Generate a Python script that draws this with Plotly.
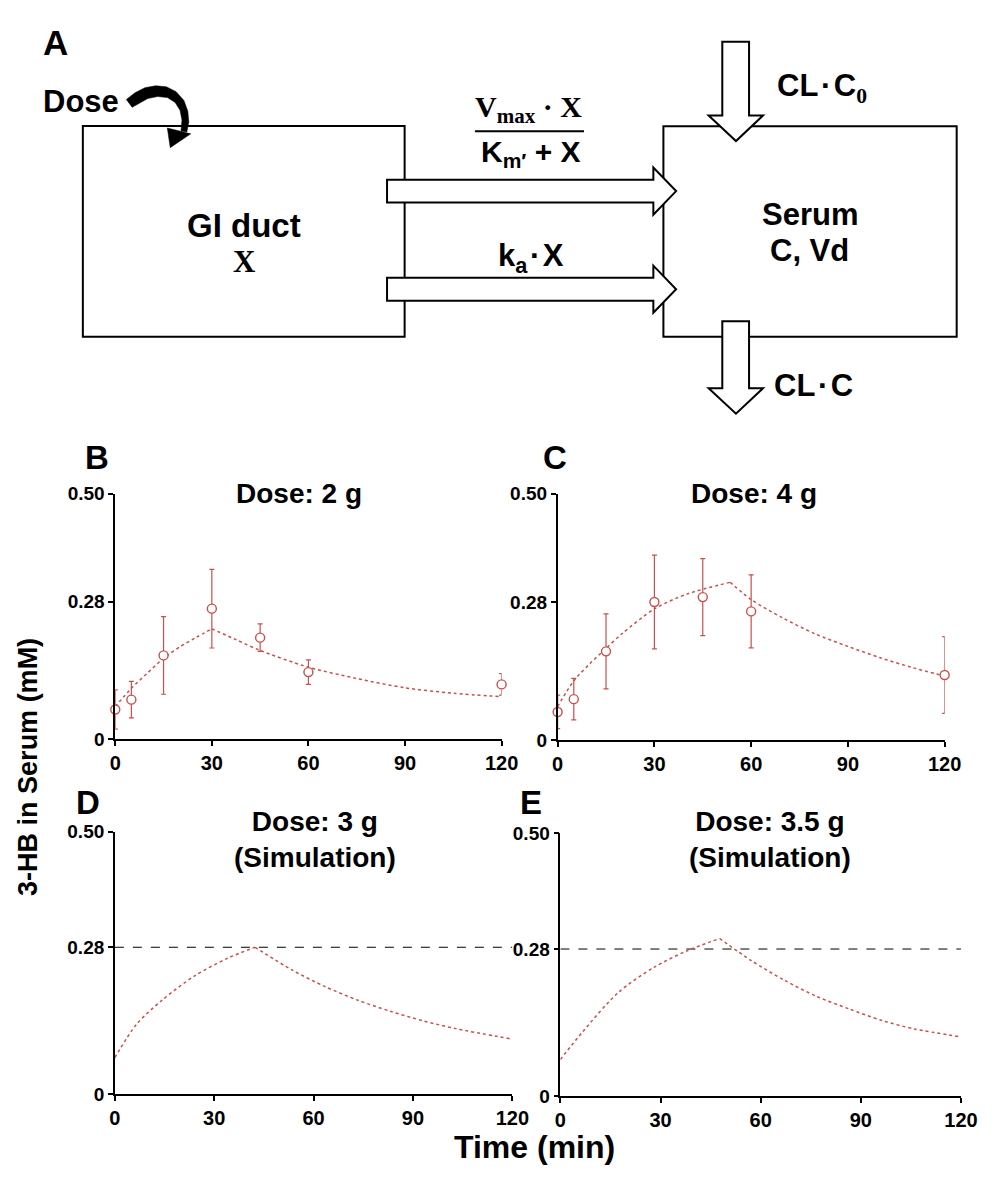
import plotly.graph_objects as go

# page is rendered with an 8px body margin: size the figure to fit inside it
PAGE_W, PAGE_H = 997, 1182
OFF = 8
W, H = PAGE_W - 2 * OFF, PAGE_H - 2 * OFF

# ---------------- data ----------------
time_obs = [0, 5, 15, 30, 45, 60, 120]
mean_2g = [0.061, 0.081, 0.171, 0.266, 0.207, 0.137, 0.112]
err_2g = [0.040, 0.037, 0.079, 0.080, 0.028, 0.025, 0.022]
mean_4g = [0.057, 0.083, 0.180, 0.280, 0.290, 0.261, 0.132]
err_4g = [0.034, 0.042, 0.076, 0.095, 0.078, 0.074, 0.078]

fit_2g_t = [0, 5, 10, 15, 20, 25, 30, 37.5, 45, 60, 75, 90, 105, 120]
fit_2g_c = [0.067, 0.104, 0.135, 0.165, 0.188, 0.207, 0.225, 0.203, 0.181, 0.147, 0.124, 0.105, 0.094, 0.087]

fit_4g_t = [0, 5, 10, 15, 20, 30, 40, 53.5, 60, 70, 80, 90, 100, 110, 120]
fit_4g_c = [0.068, 0.120, 0.155, 0.186, 0.216, 0.266, 0.296, 0.320, 0.285, 0.247, 0.215, 0.190, 0.167, 0.147, 0.130]

sim_3g_t = [0, 6.5, 14.4, 24.2, 34, 42.3, 53.7, 63.5, 73.4, 83.2, 93, 102.9, 120]
sim_3g_c = [0.070, 0.133, 0.180, 0.226, 0.259, 0.280, 0.236, 0.205, 0.179, 0.158, 0.140, 0.125, 0.105]

sim_35g_t = [0, 6.6, 17.3, 28, 37.7, 47.7, 57.2, 67, 76.7, 86.5, 96.3, 106, 120]
sim_35g_c = [0.070, 0.122, 0.197, 0.245, 0.276, 0.300, 0.258, 0.221, 0.190, 0.166, 0.144, 0.128, 0.113]

threshold = 0.28
x_ticks = [0, 30, 60, 90, 120]
y_ticks = [0, 0.28, 0.50]
y_tick_labels = ["0", "0.28", "0.50"]

RED = "#C8504B"
FONT = "Liberation Sans"
SERIF = "Liberation Serif"


def px(x):
    return (x - OFF) / W


def py(y):
    return 1 - (y - OFF) / H


fig = go.Figure()

# panel domains in page pixels: (x0, x1), (y_top, y_bottom)
panels = [
    ((111.7, 507.3), (492.3, 742.7)),
    ((564.7, 961.0), (492.3, 743.3)),
    ((111.3, 518.3), (836.7, 1104.0)),
    ((567.5, 977.7), (838.3, 1106.0)),
]

axis_common = dict(
    showline=True, linecolor="black", linewidth=1.6,
    ticks="outside", ticklen=5, tickwidth=1.6, tickcolor="black",
    showgrid=False, zeroline=False,
)

layout_axes = {}
for i, ((x0, x1), (yt, yb)) in enumerate(panels, start=1):
    sx = "" if i == 1 else str(i)
    layout_axes["xaxis" + sx] = dict(
        axis_common, domain=[px(x0), px(x1)], range=[0, 120],
        tickvals=x_ticks, anchor="y" + sx,
        tickfont=dict(family=FONT, size=20, color="black", weight="bold"),
    )
    layout_axes["yaxis" + sx] = dict(
        axis_common, domain=[py(yb), py(yt)], range=[0, 0.5],
        tickvals=y_ticks, ticktext=y_tick_labels, anchor="x" + sx,
        tickfont=dict(family=FONT, size=19, color="black", weight="bold"),
    )


def add_obs(xa, ya, t, m, e):
    fig.add_trace(go.Scatter(
        x=t, y=m, mode="markers", xaxis=xa, yaxis=ya, showlegend=False,
        cliponaxis=False,
        marker=dict(symbol="circle", size=9, color="white",
                    line=dict(color=RED, width=1.4)),
        error_y=dict(type="data", array=e, visible=True, color=RED,
                     thickness=1.2, width=2.5),
    ))


def add_fit(xa, ya, t, c):
    # smooth each limb of the curve separately so the peak stays sharp
    k = c.index(max(c))
    for seg_t, seg_c in ((t[:k + 1], c[:k + 1]), (t[k:], c[k:])):
        fig.add_trace(go.Scatter(
            x=seg_t, y=seg_c, mode="lines", xaxis=xa, yaxis=ya, showlegend=False,
            cliponaxis=False,
            line=dict(color=RED, width=1.5, dash="dot", shape="spline", smoothing=0.8),
        ))


def add_threshold(xa, ya):
    fig.add_trace(go.Scatter(
        x=[0, 120], y=[threshold, threshold], mode="lines", xaxis=xa, yaxis=ya,
        showlegend=False, line=dict(color="black", width=1, dash="dash"),
    ))


add_fit("x", "y", fit_2g_t, fit_2g_c)
add_obs("x", "y", time_obs, mean_2g, err_2g)
add_fit("x2", "y2", fit_4g_t, fit_4g_c)
add_obs("x2", "y2", time_obs, mean_4g, err_4g)
add_threshold("x3", "y3")
add_fit("x3", "y3", sim_3g_t, sim_3g_c)
add_threshold("x4", "y4")
add_fit("x4", "y4", sim_35g_t, sim_35g_c)

annotations = []


def ann(text, x, y, size, family=FONT, bold=True, xanchor="center", yanchor="middle", angle=0):
    annotations.append(dict(
        text=text, x=px(x), y=py(y), xref="paper", yref="paper",
        showarrow=False, xanchor=xanchor, yanchor=yanchor, textangle=angle,
        font=dict(family=family, size=size, color="black", weight="bold" if bold else "normal"),
    ))


HS = "\u200a"  # hair space

# panel letters
ann("A", 50, 33, 35)
ann("B", 93, 456, 33)
ann("C", 562, 456, 33)
ann("D", 84, 807, 33)
ann("E", 537, 807, 33)

# panel titles
ann("Dose: 2 g", 300, 492, 28)
ann("Dose: 4 g", 766, 492, 28)
ann("Dose: 3 g<br>(Simulation)", 316, 845, 28)
ann("Dose: 3.5 g<br>(Simulation)", 782, 845, 28)

# axis titles
ann("3-HB in Serum (mM)", 23, 771, 27, angle=-90)
ann("Time (min)", 541, 1158, 32)

# diagram texts
ann("Dose", 77, 93, 31)
ann("GI duct", 244, 219, 33)
ann("X", 244, 256, 31, family=SERIF)
ann("Serum", 823, 208, 31)
ann("C, Vd", 823, 245, 31)
ann("V<sub>max</sub> · X", 535, 101, 30, family=SERIF)
ann("K<sub>m′</sub> + X", 537, 146, 30)
ann("k<sub>a</sub>" + HS + "·" + HS + "X", 537, 252, 31)
ann("CL" + HS + "·" + HS + "C<sub><span style='font-family:Liberation Serif'>0</span></sub>",
    835, 79, 31)
ann("CL" + HS + "·" + HS + "C", 827, 382.5, 31)

shapes = []


def path(points, fill="white", lw=2):
    d = "M " + " L ".join(f"{px(x):.5f},{py(y):.5f}" for x, y in points) + " Z"
    shapes.append(dict(type="path", path=d, xref="paper", yref="paper",
                       fillcolor=fill, line=dict(color="black", width=lw), layer="above"))


def rect(x0, y0, x1, y1):
    shapes.append(dict(type="rect", x0=px(x0), x1=px(x1), y0=py(y1), y1=py(y0),
                       xref="paper", yref="paper", line=dict(color="black", width=2),
                       fillcolor="rgba(0,0,0,0)", layer="above"))


rect(78.5, 118, 408, 332.5)
rect(673, 118.3, 973.3, 332.7)

# horizontal block arrows
for yc in (184.3, 284.2):
    path([(390, yc - 11.7), (662.7, yc - 11.7), (662.7, yc - 24), (686, yc),
          (662.7, yc + 24), (662.7, yc + 11.7), (390, yc + 11.7)])

# vertical block arrows
path([(733.3, 32.3), (760.7, 32.3), (760.7, 107.3), (775, 107.3), (747.3, 133.3),
      (719.3, 107.3), (733.3, 107.3)])
path([(733.3, 316.7), (760.7, 316.7), (760.7, 385), (775, 385), (747.3, 411),
      (719.3, 385), (733.3, 385)])

# fraction bar
shapes.append(dict(type="line", x0=px(480), x1=px(591.7), y0=py(123.3), y1=py(123.3),
                   xref="paper", yref="paper", line=dict(color="black", width=2), layer="above"))

# curved dose arrow (filled)
path([(123, 91), (132, 84), (142, 79), (153, 77), (164, 78), (174, 83), (182, 92),
      (186, 103), (187, 114), (185, 124),
      (179, 123), (180, 112), (178, 102), (173, 94), (165, 89), (155, 88), (145, 90),
      (136, 95), (129, 99)], fill="black", lw=0.5)
path([(165, 120), (189, 126), (168, 140)], fill="black", lw=0.5)

fig.update_layout(
    width=W, height=H, margin=dict(l=0, r=0, t=0, b=0),
    paper_bgcolor="white", plot_bgcolor="rgba(0,0,0,0)",
    showlegend=False, annotations=annotations, shapes=shapes,
    modebar=dict(bgcolor="rgba(0,0,0,0)", color="rgba(0,0,0,0)",
                 activecolor="rgba(0,0,0,0)"),
    **layout_axes,
)

fig.write_html("out.html")
